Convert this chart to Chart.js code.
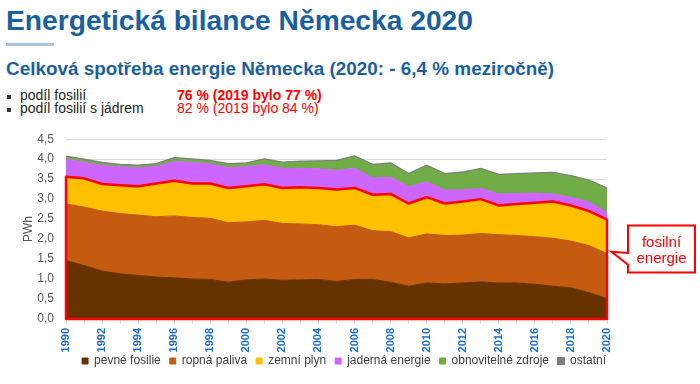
<!DOCTYPE html>
<html><head><meta charset="utf-8">
<script src="https://cdn.jsdelivr.net/npm/chart.js@4.4.0/dist/chart.umd.min.js"></script>
<style>
html,body{margin:0;padding:0;background:#fff;}
body{width:700px;height:384px;position:relative;overflow:hidden;font-family:"Liberation Sans",Arial,sans-serif;}
.abs{position:absolute;white-space:nowrap;}
#title{left:6px;top:6px;font-size:28.2px;font-weight:bold;color:#1c5f9e;line-height:28px;}
#bar{left:6px;top:43px;width:48px;height:3px;background:#a7c7e1;}
#sub{left:6px;top:59px;font-size:18.9px;font-weight:bold;color:#1c5f9e;line-height:19px;}
.bl{left:20px;font-size:14px;line-height:14px;color:#262626;}
.rv{left:177px;font-size:14px;line-height:14px;color:#ff0000;}
.sq{position:absolute;left:7px;width:4px;height:4px;background:#333;}
#chartbox{position:absolute;left:0;top:120px;width:700px;height:264px;}
#callout{position:absolute;left:0;top:0;width:700px;height:384px;pointer-events:none;}
.ct{left:628px;width:67px;text-align:center;font-size:15px;line-height:15px;color:#ff0000;}
</style></head>
<body>
<div id="title" class="abs">Energetická bilance Německa 2020</div>
<div id="bar" class="abs"></div>
<div id="sub" class="abs">Celková spotřeba energie Německa (2020: - 6,4 % meziročně)</div>
<div class="sq" style="top:94.5px"></div>
<div class="abs bl" style="top:87.5px">podíl fosilií</div>
<div class="abs rv" style="top:87.5px;font-weight:bold">76 % (2019 bylo 77 %)</div>
<div class="sq" style="top:108px"></div>
<div class="abs bl" style="top:101px">podíl fosilií s jádrem</div>
<div class="abs rv" style="top:101px">82 % (2019 bylo 84 %)</div>
<div id="chartbox"><canvas id="c"></canvas></div>
<svg id="callout" width="700" height="384">
<path d="M628,225.5 H695 V272.5 H628 V264.7 L611.5,251.7 L628,252.9 Z" fill="#fff" stroke="#ff0000" stroke-width="2"/>
</svg>
<div class="abs ct" style="top:234px">fosilní</div>
<div class="abs ct" style="top:250px">energie</div>
<script>
const years = ['1990','1991','1992','1993','1994','1995','1996','1997','1998','1999','2000','2001','2002','2003','2004','2005','2006','2007','2008','2009','2010','2011','2012','2013','2014','2015','2016','2017','2018','2019','2020'];
const seriesNames = ['pevné fosilie','ropná paliva','zemní plyn','jaderná energie','obnovitelné zdroje','ostatní'];
const solidFossil = [1.46,1.34,1.20,1.13,1.09,1.05,1.03,1.00,0.99,0.92,0.98,1.00,0.97,0.98,0.99,0.94,0.99,0.99,0.92,0.82,0.90,0.88,0.90,0.93,0.90,0.90,0.87,0.82,0.78,0.66,0.51];
const oil = [1.42,1.46,1.50,1.51,1.51,1.51,1.55,1.54,1.53,1.49,1.45,1.47,1.42,1.40,1.37,1.37,1.36,1.22,1.27,1.21,1.23,1.21,1.20,1.21,1.21,1.19,1.19,1.20,1.17,1.18,1.13];
const gas = [0.68,0.72,0.68,0.71,0.72,0.83,0.88,0.85,0.87,0.87,0.89,0.90,0.89,0.92,0.92,0.93,0.93,0.90,0.94,0.86,0.92,0.80,0.84,0.86,0.73,0.79,0.85,0.92,0.89,0.86,0.85];
const nuclear = [0.44,0.40,0.46,0.46,0.46,0.43,0.48,0.53,0.49,0.51,0.49,0.49,0.49,0.47,0.48,0.48,0.49,0.42,0.42,0.42,0.38,0.34,0.29,0.27,0.29,0.26,0.24,0.19,0.20,0.23,0.17];
const renewables = [0.05,0.05,0.05,0.03,0.04,0.04,0.07,0.06,0.06,0.07,0.07,0.12,0.13,0.15,0.17,0.22,0.28,0.31,0.33,0.30,0.39,0.38,0.42,0.47,0.46,0.47,0.48,0.51,0.52,0.52,0.59];
const other = [0.02,0.02,0.02,0.02,0.02,0.02,0.02,0.02,0.02,0.02,0.02,0.02,0.02,0.02,0.02,0.02,0.02,0.02,0.02,0.02,0.02,0.02,0.02,0.02,0.02,0.02,0.02,0.02,0.02,0.02,0.02];
const yTicks = [0,0.5,1,1.5,2,2.5,3,3.5,4,4.5];

const colors = ['#663300','#c55a11','#ffc000','#cc66ff','#70ad47','#7f7f7f'];
const values = [solidFossil, oil, gas, nuclear, renewables, other];

const datasets = values.map((v,i)=>({
  label: seriesNames[i],
  data: v,
  backgroundColor: colors[i],
  borderColor: colors[i],
  borderWidth: i===5 ? 2 : 1,
  pointRadius: 0,
  pointHoverRadius: 0,
  tension: 0,
  fill: i===0 ? 'origin' : '-1'
}));

const fossilOutline = {
  id:'fossilOutline',
  afterDatasetsDraw(chart){
    const meta = chart.getDatasetMeta(2);
    const pts = meta.data;
    const y0 = chart.scales.y.getPixelForValue(0);
    const ctx = chart.ctx;
    ctx.save();
    ctx.beginPath();
    ctx.moveTo(pts[0].x, y0);
    pts.forEach(p=>ctx.lineTo(p.x,p.y));
    ctx.lineTo(pts[pts.length-1].x, y0);
    ctx.closePath();
    ctx.strokeStyle='#ff0000';
    ctx.lineWidth=2.5;
    ctx.lineJoin='round';
    ctx.stroke();
    ctx.restore();
  }
};

const legendShift = {
  id:'legendShift',
  afterLayout(chart){
    if (chart.legend){ chart.legend.top -= 7; chart.legend.bottom -= 7; }
  }
};

new Chart(document.getElementById('c'), {
  type:'line',
  data:{labels:years, datasets},
  plugins:[fossilOutline, legendShift],
  options:{
    responsive:true, maintainAspectRatio:false, animation:false,
    layout:{padding:{top:7,right:85,left:0,bottom:0}},
    plugins:{
      tooltip:{enabled:false},
      legend:{position:'bottom', align:'end',
        labels:{boxWidth:6, boxHeight:6, padding:9, color:'#404040',
          font:{family:'"Liberation Sans", Arial, sans-serif', size:12}}}
    },
    scales:{
      x:{type:'category', offset:false,
        grid:{drawOnChartArea:false, drawTicks:true, tickLength:5, color:'#d9d9d9'},
        border:{color:'#bfbfbf'},
        ticks:{autoSkip:false, maxRotation:90, minRotation:90, padding:4, color:'#1f6dc8',
          font:{family:'"Liberation Sans", Arial, sans-serif', size:11, weight:'bold'},
          callback:function(v,i){ const l=this.getLabelForValue(v); return (parseInt(l)%2===0)?l:''; }},
        afterFit(s){ s.height = 34; }
      },
      y:{stacked:true, min:0, max:4.5,
        afterBuildTicks(s){ s.ticks = yTicks.map(v=>({value:v})); },
        grid:{color:'#d9d9d9', drawTicks:false},
        border:{display:false},
        ticks:{padding:12, color:'#595959',
          font:{family:'"Liberation Sans", Arial, sans-serif', size:12},
          callback:(v)=>v.toFixed(1).replace('.',',')},
        title:{display:true, text:'PWh', color:'#595959', padding:{top:21,bottom:0},
          font:{family:'"Liberation Sans", Arial, sans-serif', size:12}},
        afterFit(s){ s.width = 66; }
      },
      y2:{position:'right', display:true, grid:{display:false}, border:{display:false},
        ticks:{display:false}, afterFit(s){ s.width = 8; }}
    }
  }
});
</script>
</body></html>
